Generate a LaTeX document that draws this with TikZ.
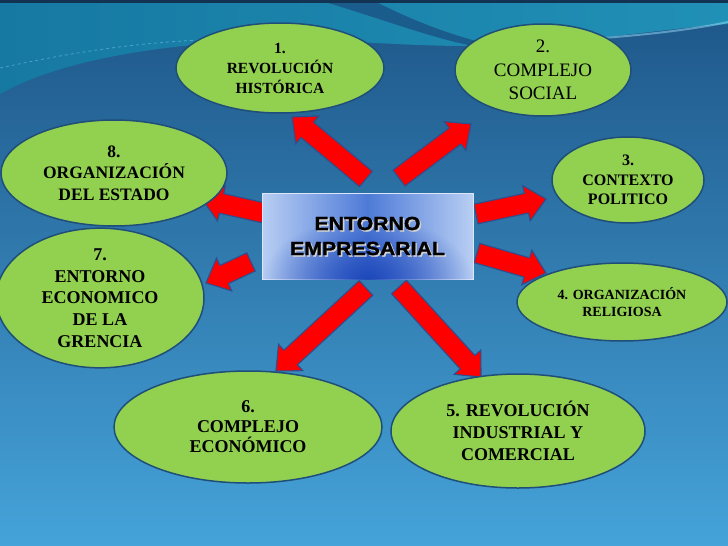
\documentclass[tikz,border=0pt]{standalone}
\usepackage{fontspec}
\setmainfont{Liberation Serif}
\newfontfamily\boxfont[FakeStretch=1.12, FakeBold=1.3]{Liberation Sans}
\usetikzlibrary{shapes.geometric}
\usetikzlibrary{calc}
\usetikzlibrary{fadings}

\definecolor{bgtop}{HTML}{1E5688}
\definecolor{bglow}{HTML}{45A3D9}
\definecolor{tealleft}{HTML}{1679A2}
\definecolor{tealright}{HTML}{2190B6}
\definecolor{swoosh}{HTML}{1A5C8C}
\definecolor{leaf}{HTML}{92D050}
\definecolor{leafline}{HTML}{1F4E79}
\definecolor{arrowred}{HTML}{FF0000}
\definecolor{arrowline}{HTML}{2E4E8E}
\definecolor{boxlight}{HTML}{B8CEF3}
\definecolor{boxmid}{HTML}{4F7BD8}
\definecolor{boxdeep}{HTML}{1A45B8}

\tikzfading[name=softblob, inner color=transparent!0, outer color=transparent!100]

\tikzset{
  topic/.style={ellipse, draw=leafline, line width=1.5pt, fill=leaf,
    inner sep=0pt, align=center, text=black},
  pusharrow/.style={draw=arrowline, line width=1.1pt, fill=arrowred,
    line join=miter},
  corebox/.style={rectangle, draw=boxlight!50!white, line width=1pt,
    left color=boxlight, right color=boxlight, middle color=boxmid,
    minimum width=211pt, minimum height=86pt}
}

\newcommand\blockarrow[2]{%
  \coordinate (#2base) at ($(#2)!20pt!(#1)$);
  \draw[pusharrow] ($(#1)!10pt!90:(#2)$) -- ($(#2base)!10pt!-90:(#1)$)
    -- ($(#2base)!18pt!-90:(#1)$) -- (#2) -- ($(#2base)!18pt!90:(#1)$)
    -- ($(#2base)!10pt!90:(#1)$) -- ($(#1)!10pt!-90:(#2)$) -- cycle;}

\begin{document}
\begin{tikzpicture}[x=1pt,y=-1pt]
\useasboundingbox (0,0) rectangle (728,546);
\shade[top color=bgtop, bottom color=bglow] (0,0) rectangle (728,546);
\shade[left color=tealleft, right color=tealright]
  (0,0) -- (728,0) -- (728,24)
  .. controls (650,30) and (560,46) .. (470,46)
  .. controls (390,46) and (330,38) .. (270,40)
  .. controls (160,44) and (60,60) .. (0,94) -- cycle;
\fill[swoosh] (318,0) .. controls (380,18) and (430,38) .. (478,47)
  -- (492,45) .. controls (440,33) and (400,14) .. (372,0) -- cycle;
\draw[cyan!40!white, opacity=0.5, line width=2pt] (560,41) .. controls (640,36) and (690,30) .. (728,22);
\draw[cyan!40!white, opacity=0.4, dashed, line width=0.8pt] (0,68) .. controls (60,55) and (120,44) .. (200,40);
\fill[black!40!bgtop] (0,0) rectangle (728,2.5);

\coordinate (t1) at (366,179); \coordinate (h1) at (292,117);
\coordinate (t2) at (399,178); \coordinate (h2) at (471,124);
\coordinate (t3) at (476,214); \coordinate (h3) at (546,199);
\coordinate (t4) at (477,253); \coordinate (h4) at (546,273);
\coordinate (t5) at (399,287); \coordinate (h5) at (481,377);
\coordinate (t6) at (366,288); \coordinate (h6) at (276,371);
\coordinate (t7) at (251,262); \coordinate (h7) at (206,283);
\coordinate (t8) at (264,213); \coordinate (h8) at (202,199);

\blockarrow{t1}{h1}
\blockarrow{t2}{h2}
\blockarrow{t3}{h3}
\blockarrow{t4}{h4}
\blockarrow{t5}{h5}
\blockarrow{t6}{h6}
\blockarrow{t7}{h7}
\blockarrow{t8}{h8}

\node[corebox] (core) at (367.5,236) {};
\begin{scope}
\clip (core.south west) rectangle (core.north east);
\fill[boxdeep, opacity=0.95, path fading=softblob] (core.south) ellipse[x radius=105pt, y radius=62pt];
\end{scope}
\node[text=gray!35, font=\boxfont\bfseries\fontsize{19}{25}\selectfont, align=center] (coreshade) at (369,237.5) {ENTORNO\\EMPRESARIAL};
\node[text=black, font=\boxfont\bfseries\fontsize{19}{25}\selectfont, align=center] (corelabel) at (367.5,236) {ENTORNO\\EMPRESARIAL};

\node[topic, minimum width=208pt, minimum height=90pt, font=\bfseries\fontsize{15.5}{20}\selectfont] (e1) at (280,68) {1.\\REVOLUCIÓN\\HISTÓRICA};
\node[topic, minimum width=176pt, minimum height=92pt, font=\fontsize{19}{23.5}\selectfont] (e2) at (543,70) {2.\\COMPLEJO\\SOCIAL};
\node[topic, minimum width=152pt, minimum height=86pt, font=\bfseries\fontsize{16}{19.5}\selectfont] (e3) at (628,180) {3.\\CONTEXTO\\POLITICO};
\node[topic, minimum width=210pt, minimum height=78pt, font=\bfseries\fontsize{14}{17.5}\selectfont] (e4) at (622,302) {4. ORGANIZACIÓN\\RELIGIOSA};
\node[topic, minimum width=254pt, minimum height=114pt, font=\bfseries\fontsize{18}{22}\selectfont] (e5) at (518,431) {5. REVOLUCIÓN\\INDUSTRIAL Y\\COMERCIAL};
\node[topic, minimum width=268pt, minimum height=112pt, font=\bfseries\fontsize{18}{20}\selectfont] (e6) at (248,427) {6.\\COMPLEJO\\ECONÓMICO};
\node[topic, minimum width=208pt, minimum height=126pt, font=\bfseries\fontsize{18}{21.7}\selectfont] (e7) at (100,298) {7.\\ENTORNO\\ECONOMICO\\DE LA\\GRENCIA};
\node[topic, minimum width=226pt, minimum height=106pt, font=\bfseries\fontsize{17.5}{21.5}\selectfont] (e8) at (114,173) {8.\\ORGANIZACIÓN\\DEL ESTADO};
\end{tikzpicture}
\end{document}
